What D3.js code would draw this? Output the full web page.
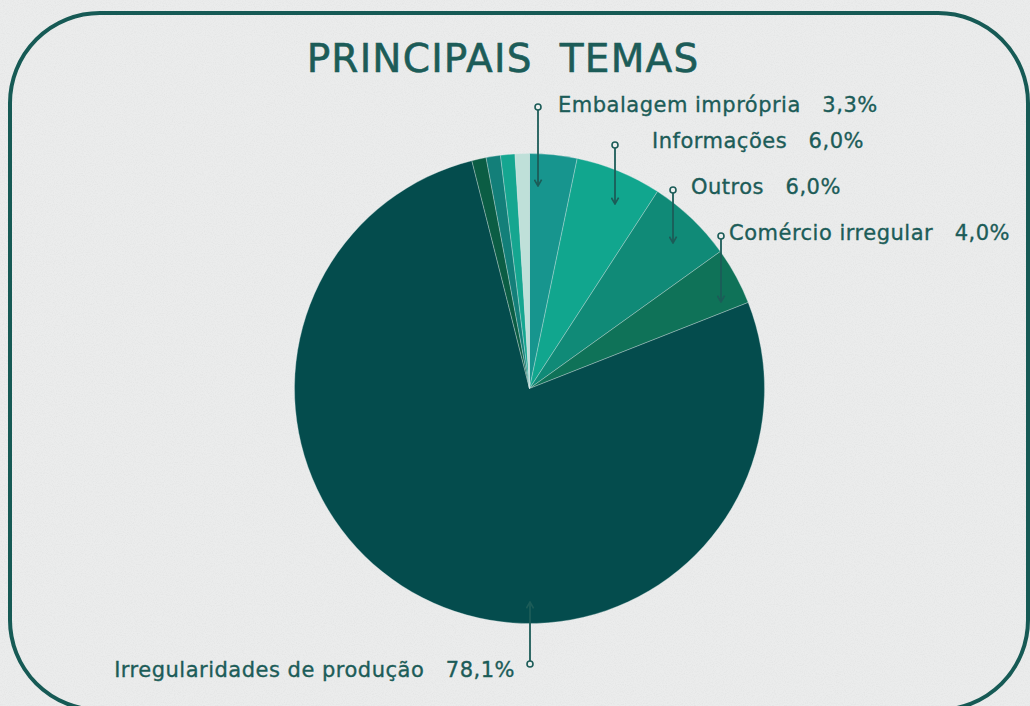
<!DOCTYPE html>
<html>
<head>
<meta charset="utf-8">
<script src="https://cdn.jsdelivr.net/npm/d3@7"></script>
<style>
  html, body { margin: 0; padding: 0; background: #e9eaea; }
  svg { display: block; }
</style>
</head>
<body>
<svg id="chart" width="1030" height="706"></svg>
<script>
// ---- data ----
const categories = [
  "Embalagem imprópria", "Informações", "Outros", "Comércio irregular",
  "Irregularidades de produção", "Outro tema A", "Outro tema B", "Outro tema C", "Outro tema D"
];
const values = [3.3, 6.0, 6.0, 4.0, 78.1, 1.0, 1.0, 1.0, 1.0];
const valueLabels = ["3,3%", "6,0%", "6,0%", "4,0%", "78,1%", null, null, null, null];
const colors = ["#17958e", "#11a68e", "#108a77", "#0f7258", "#044c4d", "#0b5d44", "#137f79", "#15a690", "#bfe0d9"];
const title = "PRINCIPAIS  TEMAS";

// ---- layout ----
const W = 1030, H = 706;
const cx = 529.5, cy = 388.5, R = 235;
const ink = "#1c5c58";
const font = "'DejaVu Sans', sans-serif";

// label layout: text position and leader line (circle end, arrow end)
const labelLayout = [
  { tx: 558, ty: 112, lx: 538, ly1: 107, ly2: 186 },
  { tx: 652, ty: 148, lx: 615, ly1: 145, ly2: 204 },
  { tx: 691, ty: 194, lx: 673, ly1: 190, ly2: 243 },
  { tx: 729, ty: 240, lx: 721, ly1: 236, ly2: 302 },
  { tx: 115, ty: 677, lx: 530, ly1: 664, ly2: 602, anchorEnd: 515 }
];

const svg = d3.select("#chart");
const defs = svg.append("defs");

// paper texture
const f = defs.append("filter").attr("id", "paper").attr("x", 0).attr("y", 0).attr("width", "100%").attr("height", "100%");
f.append("feTurbulence").attr("type", "fractalNoise").attr("baseFrequency", 0.9).attr("numOctaves", 2).attr("seed", 3).attr("result", "n");
f.append("feColorMatrix").attr("type", "matrix")
  .attr("values", "0 0 0 0 0.45  0 0 0 0 0.46  0 0 0 0 0.46  0 0 0 -1.6 0.95");
svg.append("rect").attr("width", W).attr("height", H).attr("fill", "#ebecec");
svg.append("rect").attr("width", W).attr("height", H).attr("filter", "url(#paper)").attr("opacity", 0.16);

// arrow marker (drawn along +x so orient=auto aligns it with the line)
defs.append("marker").attr("id", "arrow").attr("viewBox", "0 0 10 10")
  .attr("refX", 9).attr("refY", 5).attr("markerWidth", 9).attr("markerHeight", 9)
  .attr("markerUnits", "userSpaceOnUse").attr("orient", "auto")
  .append("path").attr("d", "M2,1 L9,5 L2,9").attr("fill", "none").attr("stroke", ink)
  .attr("stroke-width", 1.8).attr("stroke-linejoin", "miter");

// border
svg.append("rect").attr("x", 10).attr("y", 13).attr("width", 1018).attr("height", 697)
  .attr("rx", 90).attr("ry", 90).attr("fill", "none").attr("stroke", "#165a55").attr("stroke-width", 4);

// title
svg.append("text").attr("x", 503).attr("y", 72).attr("text-anchor", "middle")
  .attr("font-family", font).attr("font-size", 39).attr("fill", ink)
  .attr("letter-spacing", 1.2).attr("stroke", ink).attr("stroke-width", 0.6)
  .attr("style", "white-space:pre").text(title);

// pie
const data = categories.map((c, i) => ({ c, v: values[i], col: colors[i], lab: valueLabels[i] }));
const pie = d3.pie().sort(null).value(d => d.v);
const arc = d3.arc().innerRadius(0).outerRadius(R);
svg.append("g").attr("transform", `translate(${cx},${cy})`)
  .selectAll("path").data(pie(data)).join("path")
  .attr("d", arc).attr("fill", d => d.data.col)
  .attr("stroke", "rgba(220,235,232,0.55)").attr("stroke-width", 0.6);

// labels
const lg = svg.append("g");
data.forEach((d, i) => {
  const L = labelLayout[i];
  if (!L) return;
  lg.append("line").attr("x1", L.lx).attr("y1", L.ly1 + (L.ly2 > L.ly1 ? 3 : -3)).attr("x2", L.lx).attr("y2", L.ly2)
    .attr("stroke", ink).attr("stroke-width", 1.8).attr("marker-end", "url(#arrow)");
  lg.append("circle").attr("cx", L.lx).attr("cy", L.ly1).attr("r", 3)
    .attr("fill", "#eef0ef").attr("stroke", ink).attr("stroke-width", 1.6);
  const t = lg.append("text").attr("y", L.ty)
    .attr("font-family", font).attr("font-size", 21).attr("fill", ink)
    .attr("letter-spacing", 0.5).attr("stroke", ink).attr("stroke-width", 0.35)
    .attr("style", "white-space:pre").text(d.c + "   " + d.lab);
  if (L.anchorEnd) t.attr("x", L.anchorEnd).attr("text-anchor", "end");
  else t.attr("x", L.tx);
});
</script>
</body>
</html>
